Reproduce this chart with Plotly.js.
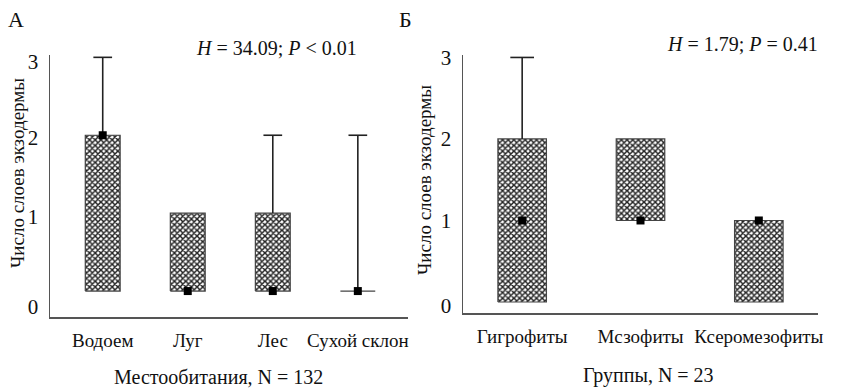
<!DOCTYPE html>
<html><head><meta charset="utf-8">
<script src="https://cdn.plot.ly/plotly-3.0.1.min.js"></script>
<style>html,body{margin:0;padding:0;background:#fff}#chart{width:854px;height:390px}</style>
</head><body><div id="chart"></div>
<script>
// Panel A data
const catsA = ['Водоем', 'Луг', 'Лес', 'Сухой склон'];
const minA = [0, 0, 0, 0];
const q1A  = [0, 0, 0, 0];
const medA = [2, 0, 0, 0];
const q3A  = [2, 1, 1, 0];
const maxA = [3, 1, 2, 2];
// Panel B data
const catsB = ['Гигрофиты', 'Мсзофиты', 'Ксеромезофиты'];
const minB = [0, 1, 0];
const q1B  = [0, 1, 0];
const medB = [1, 1, 1];
const q3B  = [2, 2, 1];
const maxB = [3, 2, 1];
// y tick labels
const yTickText = ['0', '1', '2', '3'];
const yTickPosA = [-0.2, 0.95, 1.97, 2.95];
const yTickPosB = [-0.05, 1, 2, 3];
const statA = '<i>H</i> = 34.09; <i>P</i> &lt; 0.01';
const statB = '<i>H</i> = 1.79; <i>P</i> = 0.41';
const xTitleA = 'Местообитания, N = 132';
const xTitleB = 'Группы, N = 23';
const yTitle = 'Число слоев экзодермы';

const FONT = '"Liberation Serif", "DejaVu Serif", serif';
const W = 854, H = 390;

function panel(cats, mn, q1, med, q3, mx, xa, ya, boxW, capW) {
  const idx = cats.map((c, i) => i);
  const traces = [];
  traces.push({
    type: 'bar', x: idx, base: q1, y: q3.map((v, i) => v - q1[i]),
    width: boxW, xaxis: xa, yaxis: ya, hoverinfo: 'skip',
    marker: {color: '#ffffff', line: {width: 0},
      pattern: {shape: 'x', size: 4, solidity: 0.6, fgcolor: '#222', bgcolor: '#ffffff', fillmode: 'replace'}}
  });
  // box outlines
  const ox = [], oy = [];
  idx.forEach(i => {
    const a = i - boxW / 2, b = i + boxW / 2;
    ox.push(a, b, b, a, a, null); oy.push(q1[i], q1[i], q3[i], q3[i], q1[i], null);
  });
  traces.push({type: 'scatter', mode: 'lines', x: ox, y: oy, xaxis: xa, yaxis: ya,
    line: {color: '#444', width: 1.2}, hoverinfo: 'skip'});
  // whiskers
  const wx = [], wy = [];
  idx.forEach(i => {
    if (mx[i] > q3[i]) {
      wx.push(i, i, null, i - capW / 2, i + capW / 2, null);
      wy.push(q3[i], mx[i], null, mx[i], mx[i], null);
    }
    if (mn[i] < q1[i]) {
      wx.push(i, i, null, i - capW / 2, i + capW / 2, null);
      wy.push(q1[i], mn[i], null, mn[i], mn[i], null);
    }
  });
  traces.push({type: 'scatter', mode: 'lines', x: wx, y: wy, xaxis: xa, yaxis: ya,
    line: {color: '#222', width: 1.6}, hoverinfo: 'skip'});
  // medians
  traces.push({type: 'scatter', mode: 'markers', x: idx, y: med, xaxis: xa, yaxis: ya,
    marker: {symbol: 'square', size: 8, color: '#000'}, hoverinfo: 'skip', cliponaxis: false});
  return traces;
}

const data = [].concat(
  panel(catsA, minA, q1A, medA, q3A, maxA, 'x', 'y', 0.41, 0.22),
  panel(catsB, minB, q1B, medB, q3B, maxB, 'x2', 'y2', 0.41, 0.2)
);

function xaxis(cats, dom, range, anchor) {
  return {domain: dom, range: range, anchor: anchor, tickmode: 'array',
    tickvals: cats.map((c, i) => i), ticktext: cats, ticks: '', showgrid: false, zeroline: false,
    showline: true, linecolor: '#555', linewidth: 1.5, fixedrange: true,
    tickfont: {family: FONT, size: 19, color: '#111'}, ticklabelstandoff: 6};
}
function yaxis(dom, range, anchor, tv) {
  return {domain: dom, range: range, anchor: anchor, tickmode: 'array', tickvals: tv, ticktext: yTickText,
    ticks: '', showgrid: false, zeroline: false, showline: true, linecolor: '#555', linewidth: 1.5,
    fixedrange: true, tickfont: {family: FONT, size: 21, color: '#111'}, ticklabelstandoff: 6};
}

const layout = {
  width: W, height: H, margin: {l: 0, r: 0, t: 0, b: 0}, showlegend: false,
  paper_bgcolor: '#fff', plot_bgcolor: '#fff', barmode: 'overlay',
  font: {family: FONT, color: '#111'},
  xaxis: xaxis(catsA, [50 / W, 408 / W], [-0.62, 3.59], 'y'),
  yaxis: yaxis([1 - 317 / H, 1 - 55 / H], [-0.333, 3.03], 'x', yTickPosA),
  xaxis2: xaxis(catsB, [463 / W, 818 / W], [-0.5, 2.5], 'y2'),
  yaxis2: yaxis([1 - 313 / H, 1 - 55 / H], [-0.135, 3.03], 'x2', yTickPosB),
  annotations: [
    {text: 'А', xref: 'paper', yref: 'paper', x: 6 / W, y: 1 - 19 / H, xanchor: 'left', yanchor: 'middle', showarrow: false, font: {size: 22, family: FONT}},
    {text: 'Б', xref: 'paper', yref: 'paper', x: 397 / W, y: 1 - 19 / H, xanchor: 'left', yanchor: 'middle', showarrow: false, font: {size: 22, family: FONT}},
    {text: statA, xref: 'paper', yref: 'paper', x: 276 / W, y: 1 - 48 / H, xanchor: 'center', yanchor: 'middle', showarrow: false, font: {size: 20, family: FONT}},
    {text: statB, xref: 'paper', yref: 'paper', x: 742 / W, y: 1 - 44 / H, xanchor: 'center', yanchor: 'middle', showarrow: false, font: {size: 20, family: FONT}},
    {text: yTitle, xref: 'paper', yref: 'paper', x: 17 / W, y: 1 - 173 / H, xanchor: 'center', yanchor: 'middle', textangle: -90, showarrow: false, font: {size: 19, family: FONT}},
    {text: yTitle, xref: 'paper', yref: 'paper', x: 424 / W, y: 1 - 180 / H, xanchor: 'center', yanchor: 'middle', textangle: -90, showarrow: false, font: {size: 19, family: FONT}},
    {text: xTitleA, xref: 'paper', yref: 'paper', x: 218 / W, y: 1 - 377 / H, xanchor: 'center', yanchor: 'middle', showarrow: false, font: {size: 20, family: FONT}},
    {text: xTitleB, xref: 'paper', yref: 'paper', x: 648 / W, y: 1 - 375 / H, xanchor: 'center', yanchor: 'middle', showarrow: false, font: {size: 20, family: FONT}}
  ]
};

Plotly.newPlot('chart', data, layout, {displayModeBar: false, staticPlot: true});
</script></body></html>
